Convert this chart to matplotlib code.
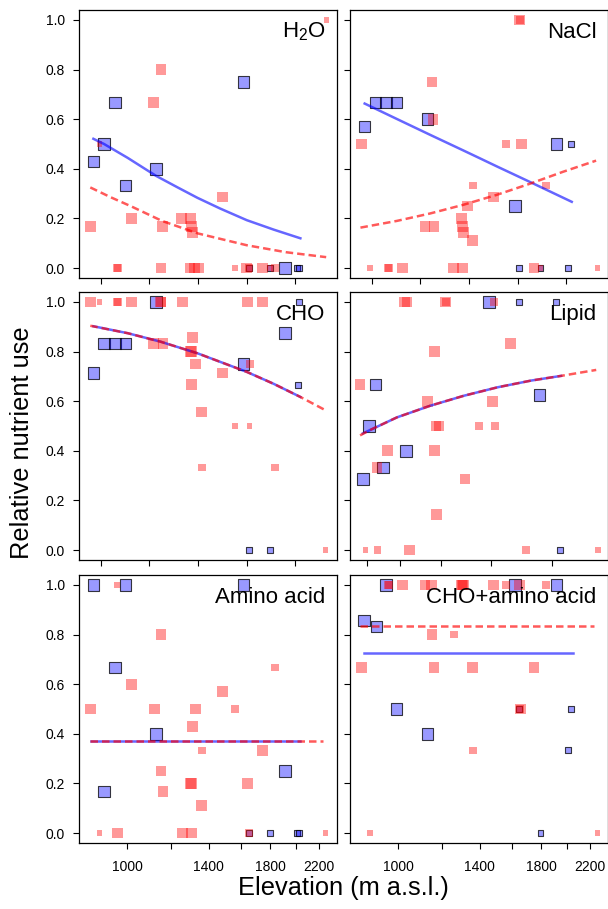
import numpy as np
import matplotlib
matplotlib.use("Agg")
import matplotlib.pyplot as plt
from matplotlib.ticker import NullLocator, NullFormatter

plt.rcParams['font.family'] = ['Liberation Sans', 'DejaVu Sans']
plt.rcParams['mathtext.default'] = 'regular'

# panel titles, in reading order
titles = [r'H$_2$O', 'NaCl', 'CHO', 'Lipid', 'Amino acid', 'CHO+amino acid']

# points: (elevation, relative use, size class 1-3)
h2o_blue = [(871, 0.429, 3), (910, 0.5, 3), (951, 0.667, 3), (994, 0.333, 3), (1126, 0.4, 3),
            (1614, 0.75, 3), (1648, 0.0, 1), (1799, 0.0, 1), (1914, 0.0, 3), (2014, 0.0, 1), (2030, 0.0, 1)]
h2o_red = [(862, 0.167, 3), (892, 0.5, 1), (960, 0.0, 2), (962, 0.0, 2), (1019, 0.2, 3), (1114, 0.667, 3),
           (1150, 0.8, 3), (1150, 0.0, 3), (1158, 0.167, 3), (1252, 0.2, 3), (1296, 0.0, 3), (1300, 0.2, 3),
           (1305, 0.167, 3), (1310, 0.143, 3), (1318, 0.0, 3), (1340, 0.0, 3), (1480, 0.286, 3), (1559, 0.0, 1),
           (1636, 0.0, 3), (1648, 0.0, 2), (1746, 0.0, 3), (1799, 0.0, 1), (1836, 0.0, 2), (2267, 1.0, 1)]

nacl_blue = [(872, 0.571, 3), (912, 0.667, 3), (952, 0.667, 3), (994, 0.667, 3), (1128, 0.6, 3),
             (1617, 0.25, 3), (1646, 0.0, 1), (1796, 0.0, 1), (1917, 0.5, 3), (2036, 0.5, 1), (2014, 0.0, 1)]
nacl_red = [(860, 0.5, 3), (891, 0.0, 1), (960, 0.0, 2), (962, 0.0, 2), (1020, 0.0, 3), (1117, 0.167, 3),
            (1150, 0.75, 3), (1155, 0.6, 3), (1160, 0.167, 3), (1255, 0.0, 3), (1299, 0.2, 3), (1302, 0.0, 3),
            (1305, 0.167, 3), (1308, 0.143, 3), (1330, 0.25, 3), (1360, 0.333, 2), (1360, 0.111, 3),
            (1479, 0.286, 3), (1558, 0.5, 2), (1646, 1.0, 3), (1650, 1.0, 2), (1660, 0.5, 3), (1748, 0.0, 3),
            (1796, 0.0, 1), (1836, 0.333, 2), (2270, 0.0, 1)]

cho_blue = [(871, 0.714, 3), (910, 0.833, 3), (951, 0.833, 3), (994, 0.833, 3), (1126, 1.0, 3),
            (1614, 0.75, 3), (1648, 0.0, 1), (1799, 0.0, 1), (1914, 0.875, 3), (2016, 0.667, 1), (2030, 1.0, 1)]
cho_red = [(862, 1.0, 3), (892, 1.0, 1), (960, 1.0, 2), (962, 1.0, 2), (1019, 1.0, 3), (1114, 0.833, 3),
           (1147, 1.0, 3), (1150, 1.0, 3), (1160, 0.833, 3), (1257, 1.0, 3), (1300, 0.8, 3), (1305, 0.8, 3),
           (1307, 0.857, 3), (1305, 0.667, 3), (1325, 0.75, 3), (1360, 0.556, 3), (1360, 0.333, 2),
           (1480, 0.714, 3), (1559, 0.5, 1), (1640, 1.0, 3), (1655, 0.5, 1), (1655, 0.75, 2), (1746, 1.0, 3),
           (1836, 0.333, 2), (2260, 0.0, 1)]

lipid_blue = [(874, 0.286, 3), (912, 0.5, 3), (950, 0.667, 3), (994, 0.333, 3), (1133, 0.4, 3),
              (1624, 1.0, 3), (1805, 1.0, 1), (1925, 0.625, 3), (2026, 1.0, 1), (2046, 0.0, 1)]
lipid_red = [(858, 0.667, 3), (892, 0.0, 1), (962, 0.0, 2), (958, 0.333, 3), (1022, 0.4, 3), (1121, 1.0, 3),
             (1137, 1.0, 3), (1151, 0.0, 3), (1261, 0.6, 3), (1301, 0.8, 3), (1301, 0.4, 3), (1309, 0.5, 3),
             (1327, 0.5, 3), (1313, 0.143, 3), (1367, 1.0, 3), (1367, 1.0, 2), (1482, 0.286, 3), (1566, 0.5, 2),
             (1644, 0.6, 3), (1662, 0.5, 2), (1656, 1.0, 2), (1755, 0.833, 3), (1845, 0.0, 2), (2273, 0.0, 1)]

amino_blue = [(871, 1.0, 3), (994, 1.0, 3), (951, 0.667, 3), (910, 0.167, 3), (1126, 0.4, 3),
              (1614, 1.0, 3), (1648, 0.0, 1), (1799, 0.0, 1), (1914, 0.25, 3), (2014, 0.0, 1), (2030, 0.0, 1)]
amino_red = [(862, 0.5, 3), (892, 0.0, 1), (960, 1.0, 1), (962, 0.0, 3), (1019, 0.6, 3), (1118, 0.5, 3),
             (1150, 0.8, 3), (1150, 0.25, 3), (1160, 0.167, 3), (1256, 0.0, 3), (1300, 0.2, 3), (1302, 0.2, 3),
             (1305, 0.0, 3), (1307, 0.429, 3), (1325, 0.5, 3), (1360, 0.333, 2), (1360, 0.111, 3),
             (1480, 0.571, 3), (1559, 0.5, 2), (1640, 0.2, 3), (1650, 0.0, 2), (1746, 0.333, 3),
             (1836, 0.667, 2), (2260, 0.0, 1)]

choam_blue = [(870, 0.857, 3), (915, 0.833, 3), (951, 1.0, 3), (994, 0.5, 3), (1128, 0.4, 3),
              (1617, 1.0, 3), (1646, 0.5, 1), (1796, 0.0, 1), (1917, 1.0, 3), (2036, 0.5, 1), (2014, 0.333, 1)]
choam_red = [(860, 0.667, 3), (891, 0.0, 1), (962, 1.0, 2), (960, 1.0, 2), (1020, 1.0, 3), (1117, 1.0, 3),
             (1148, 1.0, 3), (1150, 0.8, 3), (1160, 0.667, 3), (1257, 0.8, 2), (1299, 1.0, 3), (1305, 1.0, 3),
             (1310, 1.0, 3), (1360, 0.667, 3), (1360, 0.333, 2), (1479, 1.0, 3), (1558, 1.0, 2),
             (1648, 1.0, 3), (1650, 0.5, 2), (1655, 0.5, 3), (1748, 0.667, 3), (1836, 1.0, 2), (2270, 0.0, 1)]

# fitted curves: (elevation, value)
h2o_blue_fit = [(871, 0.521), (910, 0.5), (1003, 0.444), (1126, 0.372), (1229, 0.326), (1336, 0.283),
                (1466, 0.24), (1636, 0.193), (1827, 0.155), (2039, 0.12)]
h2o_red_fit = [(860, 0.325), (934, 0.286), (1019, 0.248), (1155, 0.19), (1336, 0.14), (1636, 0.092),
               (1921, 0.064), (2267, 0.044)]
nacl_blue_fit = [(872, 0.663), (995, 0.601), (1141, 0.537), (1308, 0.474), (1401, 0.442), (1500, 0.41),
                 (1720, 0.347), (2042, 0.267)]
nacl_red_fit = [(857, 0.163), (995, 0.19), (1141, 0.22), (1308, 0.255), (1500, 0.295), (1720, 0.34),
                (1970, 0.388), (2257, 0.433)]
cho_blue_fit = [(871, 0.902), (1003, 0.874), (1147, 0.84), (1336, 0.793), (1636, 0.718), (1827, 0.67),
                (2039, 0.617)]
cho_red_fit = [(860, 0.904), (1003, 0.874), (1147, 0.84), (1336, 0.793), (1636, 0.718), (1827, 0.67),
               (2039, 0.617), (2267, 0.562)]
lipid_blue_fit = [(874, 0.47), (912, 0.482), (1078, 0.535), (1277, 0.582), (1476, 0.622), (1676, 0.656),
                  (1875, 0.683), (2054, 0.702)]
lipid_red_fit = [(858, 0.462), (912, 0.482), (1078, 0.535), (1277, 0.582), (1476, 0.622), (1676, 0.656),
                 (1875, 0.683), (2054, 0.702), (2263, 0.726)]
amino_blue_fit = [(862, 0.372), (2039, 0.372)]
amino_red_fit = [(860, 0.372), (2240, 0.372)]
choam_blue_fit = [(868, 0.726), (2050, 0.726)]
choam_red_fit = [(857, 0.836), (2239, 0.836)]

blue_sets = [h2o_blue, nacl_blue, cho_blue, lipid_blue, amino_blue, choam_blue]
red_sets = [h2o_red, nacl_red, cho_red, lipid_red, amino_red, choam_red]
blue_fits = [h2o_blue_fit, nacl_blue_fit, cho_blue_fit, lipid_blue_fit, amino_blue_fit, choam_blue_fit]
red_fits = [h2o_red_fit, nacl_red_fit, cho_red_fit, lipid_red_fit, amino_red_fit, choam_red_fit]

inner_ticks = np.exp([6.8, 7.0, 7.2, 7.4, 7.6])
bottom_ticks = [1000, 1200, 1400, 1600, 1800, 2000, 2200]
bottom_labels = ['1000', '', '1400', '', '1800', '', '2200']
y_ticks = [0, 0.2, 0.4, 0.6, 0.8, 1.0]

red_size = {1: 14, 2: 32, 3: 60}
blue_size = {1: 18, 2: 36, 3: 70}

fig = plt.figure(figsize=(6.08, 9.09), dpi=100)
W, H = 608, 909
col_left = [79, 350]
row_top = [10, 292, 575]
pw, ph = 258, 268

for i in range(6):
    r, c = divmod(i, 2)
    ax = fig.add_axes([col_left[c] / W, 1 - (row_top[r] + ph) / H, pw / W, ph / H])
    linear_x = (i == 3)  # the lipid panel is on a plain elevation axis
    if not linear_x:
        ax.set_xscale('log')
        ax.set_xlim(821, 2370)
    else:
        ax.set_xlim(798, 2333)
    ax.set_ylim(-0.04, 1.04)

    b = np.array(blue_sets[i])
    ax.scatter(b[:, 0], b[:, 1], s=[blue_size[int(k)] for k in b[:, 2]], marker='s',
               facecolor=(0, 0, 1, 0.4), edgecolor=(0, 0, 0, 0.75), linewidth=0.8, zorder=2)
    rd = np.array(red_sets[i])
    ax.scatter(rd[:, 0], rd[:, 1], s=[red_size[int(k)] for k in rd[:, 2]], marker='s',
               facecolor=(1, 0, 0, 0.4), edgecolor='none', zorder=3)

    bf = np.array(blue_fits[i])
    ax.plot(bf[:, 0], bf[:, 1], color=(0, 0, 1, 0.6), lw=1.8, zorder=4)
    rf = np.array(red_fits[i])
    ax.plot(rf[:, 0], rf[:, 1], color=(1, 0, 0, 0.65), lw=1.8, ls=(0, (3, 1.6)), zorder=5)

    ax.text(0.955, 0.897, titles[i], transform=ax.transAxes, ha='right', va='baseline', fontsize=16)

    ax.xaxis.set_minor_locator(NullLocator())
    ax.xaxis.set_minor_formatter(NullFormatter())
    if r == 2:
        ax.set_xticks(bottom_ticks)
        ax.set_xticklabels(bottom_labels)
    else:
        ax.set_xticks(inner_ticks)
        ax.set_xticklabels([])
    ax.set_yticks(y_ticks)
    if c == 0:
        ax.set_yticklabels(['%.1f' % v for v in y_ticks])
    else:
        ax.set_yticklabels([])
    ax.tick_params(direction='out', length=4.3, width=0.8, labelsize=10, colors='black')
    ax.tick_params(axis='x', pad=8)
    ax.tick_params(axis='y', pad=6)
    for sp in ax.spines.values():
        sp.set_linewidth(0.9)

fig.text(343 / W, 1 - 888 / H, 'Elevation (m a.s.l.)', ha='center', va='center', fontsize=18.3)
fig.text(22 / W, 1 - 443 / H, 'Relative nutrient use', ha='center', va='center', rotation=90, fontsize=18.3)

fig.savefig('out.png', dpi=100)
